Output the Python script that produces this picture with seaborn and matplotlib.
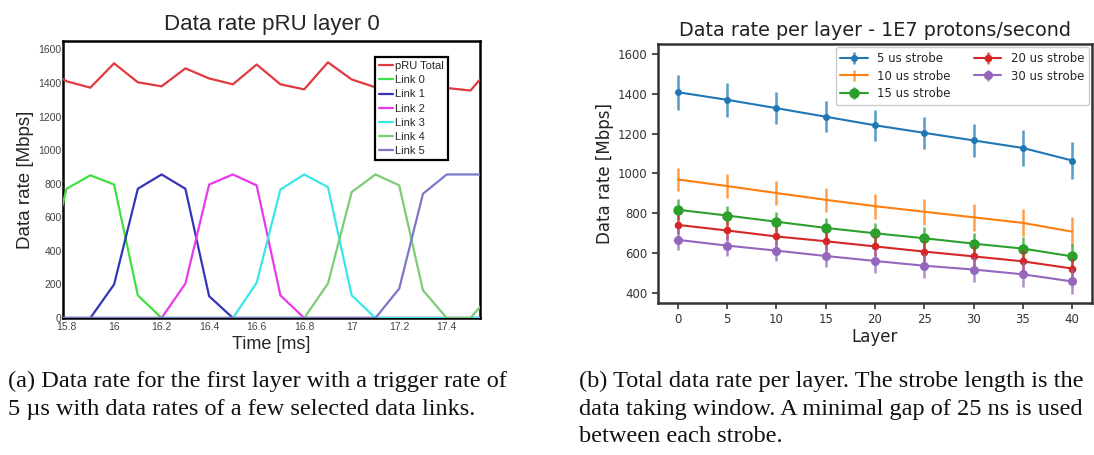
import seaborn as sns
import matplotlib.pyplot as plt
import matplotlib.ticker as mticker
import pandas as pd

# ---- panel (a): data rate pRU layer 0 ----
time_ms = [15.7, 15.8, 15.9, 16.0, 16.1, 16.2, 16.3, 16.4, 16.5, 16.6,
           16.7, 16.8, 16.9, 17.0, 17.1, 17.2, 17.3, 17.4, 17.5, 17.6]
pru_total = [1500, 1410, 1372, 1517, 1404, 1380, 1487, 1427, 1392, 1510,
             1392, 1362, 1523, 1421, 1374, 1500, 1400, 1370, 1355, 1520]
link0 = [200, 770, 850, 795, 135, 0, 0, 0, 0, 0, 0, 0, 0, 0, 0, 0, 0, 0, 0, 0]
link1 = [0, 0, 0, 200, 770, 855, 770, 130, 0, 0, 0, 0, 0, 0, 0, 0, 0, 0, 0, 0]
link2 = [0, 0, 0, 0, 0, 0, 205, 795, 855, 790, 135, 0, 0, 0, 0, 0, 0, 0, 0, 0]
link3 = [0, 0, 0, 0, 0, 0, 0, 0, 0, 210, 765, 855, 780, 135, 0, 0, 0, 0, 0, 0]
link4 = [0, 0, 0, 0, 0, 0, 0, 0, 0, 0, 0, 0, 205, 750, 855, 790, 165, 0, 0, 165]
link5 = [0, 0, 0, 0, 0, 0, 0, 0, 0, 0, 0, 0, 0, 0, 0, 175, 740, 855, 855, 855]
series_a = ["pRU Total", "Link 0", "Link 1", "Link 2", "Link 3", "Link 4", "Link 5"]

# ---- panel (b): data rate per layer ----
layers = [0, 5, 10, 15, 20, 25, 30, 35, 40]
rate_5us = [1408, 1370, 1328, 1285, 1242, 1204, 1166, 1128, 1065]
rate_10us = [970, 937, 902, 868, 836, 808, 780, 752, 708]
rate_15us = [818, 789, 758, 727, 700, 675, 648, 623, 584]
rate_20us = [742, 714, 684, 660, 634, 608, 584, 559, 523]
rate_30us = [667, 638, 613, 586, 561, 537, 518, 494, 458]
err_5us = [88, 84, 80, 78, 78, 80, 84, 88, 92]
err_10us = [60, 58, 58, 60, 62, 65, 68, 68, 72]
err_15us = [52, 50, 50, 50, 52, 55, 55, 58, 60]
err_20us = [48, 46, 46, 48, 50, 52, 52, 55, 55]
err_30us = [52, 52, 52, 55, 58, 60, 62, 62, 62]
strobes = ["5 us strobe", "10 us strobe", "15 us strobe", "20 us strobe", "30 us strobe"]

# ---- captions ----
caption_a = ["(a) Data rate for the first layer with a trigger rate of",
             "5 \u00b5s with data rates of a few selected data links."]
caption_b = ["(b) Total data rate per layer. The strobe length is the",
             "data taking window. A minimal gap of 25 ns is used",
             "between each strobe."]

sns.set_theme(style="white")
plt.rcParams["font.family"] = ["DejaVu Sans"]

fig = plt.figure(figsize=(10.94, 4.55), dpi=100)
ax_a = fig.add_axes([63 / 1094, 1 - 318 / 455, 417 / 1094, 277 / 455])
ax_b = fig.add_axes([658 / 1094, 1 - 303 / 455, 434 / 1094, 259 / 455])

# ---------- panel (a) ----------
SANS = "Liberation Sans"
colors_a = ["#e0393e", "#3fe03f", "#3535b5", "#e83ae8", "#3ae6e6", "#7ccc74", "#7a78c8"]
values_a = [pru_total, link0, link1, link2, link3, link4, link5]
fr = pd.DataFrame({"time": time_ms})
for name, vals in zip(series_a, values_a):
    fr[name] = vals
long_fr = fr.melt(id_vars="time", var_name="series", value_name="rate")
sns.lineplot(data=long_fr, x="time", y="rate", hue="series", hue_order=series_a,
             palette=colors_a, linewidth=1.6, ax=ax_a)
for ln in ax_a.lines:
    ln.set_zorder(3)

ax_a.set_xlim(15.785, 17.54)
ax_a.set_ylim(0, 1650)
ax_a.xaxis.set_major_locator(mticker.MultipleLocator(0.2))
ax_a.xaxis.set_minor_locator(mticker.MultipleLocator(0.04))
ax_a.yaxis.set_major_locator(mticker.MultipleLocator(200))
ax_a.yaxis.set_minor_locator(mticker.MultipleLocator(40))
ax_a.xaxis.set_major_formatter(mticker.FuncFormatter(lambda v, p: f"{v:g}"))
ax_a.tick_params(axis="both", which="major", direction="in", length=11, width=1.8,
                 labelsize=7.5, labelcolor="#444444", color="black")
ax_a.tick_params(axis="y", which="major", pad=1)
ax_a.tick_params(axis="x", which="major", pad=3)
ax_a.tick_params(axis="both", which="minor", direction="in", length=5, width=1.4,
                 color="black")
for lab in ax_a.get_xticklabels() + ax_a.get_yticklabels():
    lab.set_fontfamily(SANS)
for sp in ax_a.spines.values():
    sp.set_linewidth(1.8)
    sp.set_color("black")
ax_a.set_title("Data rate pRU layer 0", fontsize=16, family=SANS, pad=8)
ax_a.set_xlabel("Time [ms]", fontsize=13, family=SANS)
ax_a.set_ylabel("Data rate [Mbps]", fontsize=13.5, family=SANS)
ax_a.xaxis.set_label_coords(0.5, -0.064)
ax_a.yaxis.set_label_coords(-0.07, 0.5)
leg_a = ax_a.legend(loc="upper left", bbox_to_anchor=(0.748, 0.942), borderaxespad=0,
                    fancybox=False, framealpha=1, edgecolor="black",
                    prop={"family": SANS, "size": 8}, handlelength=1.3,
                    handletextpad=0.2, labelspacing=0.38, borderpad=0.35)
leg_a.get_frame().set_linewidth(1.6)

# ---------- panel (b) ----------
pal = sns.color_palette("tab10")
rates_b = [rate_5us, rate_10us, rate_15us, rate_20us, rate_30us]
errs_b = [err_5us, err_10us, err_15us, err_20us, err_30us]
markers = ["o", None, "o", "o", "o"]
msizes = [5, 0, 7.5, 5.5, 6.5]
handles = []
for i, (name, vals, errs) in enumerate(zip(strobes, rates_b, errs_b)):
    c = pal[i]
    eb = ax_b.errorbar(layers, vals, yerr=errs, fmt="none", ecolor=c, elinewidth=1.8,
                       alpha=0.75, capsize=0)
    sns.lineplot(x=layers, y=vals, color=c, marker=markers[i], markersize=msizes[i],
                 markeredgewidth=0, linewidth=1.5, ax=ax_b)
    handles.append((eb, ax_b.lines[-1]))

ax_b.set_xlim(-2, 42)
ax_b.set_ylim(350, 1650)
ax_b.xaxis.set_major_locator(mticker.MultipleLocator(5))
ax_b.yaxis.set_major_locator(mticker.MultipleLocator(200))
ax_b.tick_params(axis="both", direction="out", length=4, width=1.2, color="#333333",
                 labelsize=8.5, labelcolor="#333333", bottom=True, left=True)
for sp in ax_b.spines.values():
    sp.set_linewidth(1.8)
    sp.set_color("#333333")
ax_b.set_title("Data rate per layer - 1E7 protons/second", fontsize=13.8, pad=6,
               color="#222222")
ax_b.set_xlabel("Layer", fontsize=12, color="#222222", labelpad=1)
ax_b.set_ylabel("Data rate [Mbps]", fontsize=12, color="#222222", labelpad=3)
ax_b.legend(handles, strobes, loc="upper right", bbox_to_anchor=(0.993, 0.988),
            borderaxespad=0, ncol=2, fontsize=8.5, framealpha=1, edgecolor="#cccccc",
            fancybox=True, handlelength=2.3, columnspacing=2.0, labelspacing=0.4)

# ---------- captions ----------
SERIF = "Liberation Serif"
cap_size = 17.5
for k, line in enumerate(caption_a):
    fig.text(8 / 1094, 1 - (381 + 29 * k) / 455, line, family=SERIF,
             fontsize=cap_size, va="center", color="#111111")
for k, line in enumerate(caption_b):
    fig.text(579 / 1094, 1 - (381 + 28 * k) / 455, line, family=SERIF,
             fontsize=cap_size, va="center", color="#111111")

fig.savefig("out.png", dpi=100)
plt.close(fig)
